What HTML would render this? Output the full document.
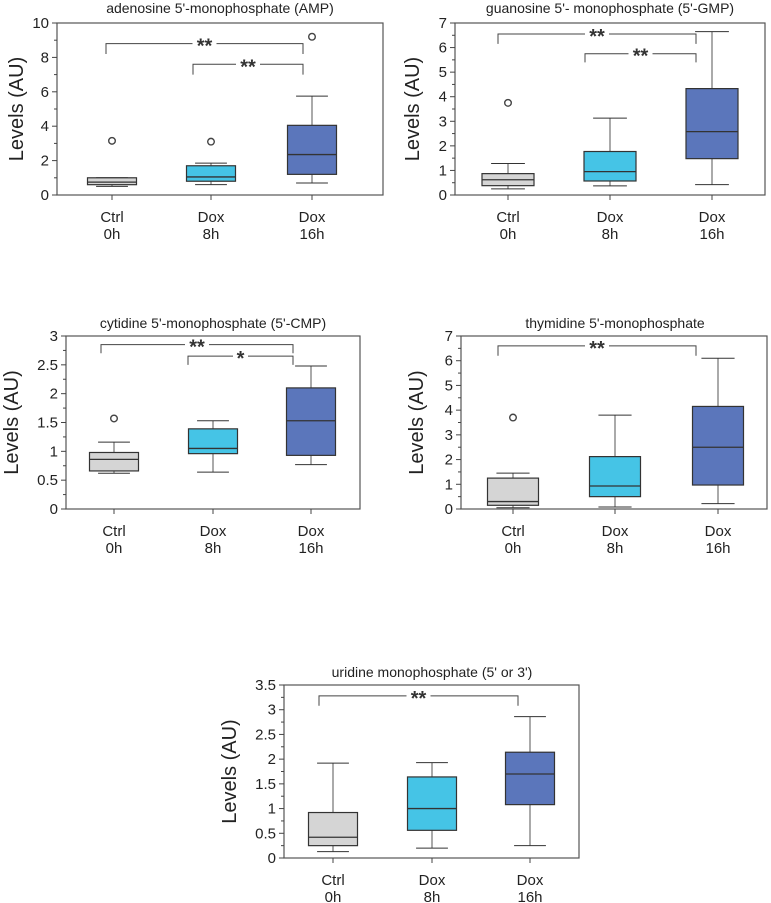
<!DOCTYPE html>
<html><head><meta charset="utf-8"><style>
body{margin:0;background:#fff;width:771px;height:903px;overflow:hidden}
svg{display:block;font-family:"Liberation Sans",sans-serif}
</style></head><body>
<svg id="c" width="771" height="903" viewBox="0 0 771 903"></svg>
<script>
const categories=[["Ctrl","0h"],["Dox","8h"],["Dox","16h"]];
const colors=["#d5d5d5","#45c4e6","#5b76bb"];
const titles=["adenosine 5'-monophosphate (AMP)","guanosine 5'- monophosphate (5'-GMP)","cytidine 5'-monophosphate (5'-CMP)","thymidine 5'-monophosphate","uridine monophosphate (5' or 3')"];
const yMax=[10,7,3,7,3.5];
const yTicks=[[0,2,4,6,8,10],[0,1,2,3,4,5,6,7],[0,0.5,1,1.5,2,2.5,3],[0,1,2,3,4,5,6,7],[0,0.5,1,1.5,2,2.5,3,3.5]];
// [whiskerLow, q1, median, q3, whiskerHigh] per category
const stats1=[[0.5,0.6,0.75,1.0,1.0],[0.6,0.8,1.05,1.7,1.85],[0.7,1.2,2.35,4.05,5.75]];
const stats2=[[0.25,0.38,0.62,0.87,1.28],[0.37,0.57,0.95,1.77,3.13],[0.42,1.48,2.58,4.33,6.65]];
const stats3=[[0.62,0.66,0.86,0.98,1.16],[0.64,0.96,1.05,1.39,1.53],[0.77,0.93,1.53,2.1,2.48]];
const stats4=[[0.05,0.15,0.3,1.25,1.45],[0.08,0.5,0.93,2.12,3.8],[0.22,0.97,2.5,4.15,6.1]];
const stats5=[[0.13,0.25,0.42,0.92,1.92],[0.2,0.56,1.0,1.64,1.93],[0.25,1.08,1.7,2.14,2.86]];
const outliers1=[[0,3.15],[1,3.1],[2,9.2]];
const outliers2=[[0,3.75]];
const outliers3=[[0,1.57]];
const outliers4=[[0,3.7]];
const outliers5=[];
// brackets: [fromCat, toCat, topValue, dropValue, label]
const brackets1=[[0,2,8.8,8.2,"**"],[1,2,7.6,7.0,"**"]];
const brackets2=[[0,2,6.55,6.15,"**"],[1,2,5.75,5.4,"**"]];
const brackets3=[[0,2,2.85,2.7,"**"],[1,2,2.65,2.5,"*"]];
const brackets4=[[0,2,6.6,6.2,"**"]];
const brackets5=[[0,2,3.28,3.08,"**"]];
const allStats=[stats1,stats2,stats3,stats4,stats5];
const allOut=[outliers1,outliers2,outliers3,outliers4,outliers5];
const allBr=[brackets1,brackets2,brackets3,brackets4,brackets5];
const layout=[
 {l:57,r:383,t:23,b:195,c:[112,211,312],bw:49,yt:17,tx:220,ty:13,br:[106,193,303]},
 {l:455,r:765,t:23,b:195,c:[508,610,712],bw:52,yt:413,tx:610,ty:13,br:[498,585,696]},
 {l:66,r:360,t:336,b:509,c:[114,213,311],bw:49,yt:12,tx:213,ty:328,br:[101,188,293]},
 {l:461,r:767,t:336,b:509,c:[513,615,718],bw:51,yt:417,tx:615,ty:328,br:[498,585,696]},
 {l:284,r:579,t:685,b:858,c:[333,432,530],bw:49,yt:230,tx:432,ty:677,br:[319,400,518]}
];
const svg=document.getElementById('c');
const NS="http://www.w3.org/2000/svg";
function mk(tag,attrs,parent,text){const e=document.createElementNS(NS,tag);for(const k in attrs)e.setAttribute(k,attrs[k]);if(text!==undefined)e.textContent=text;parent.appendChild(e);return e;}
layout.forEach((L,p)=>{
 const g=mk('g',{},svg);
 
 
 const y=v=>L.b-(v/yMax[p])*(L.b-L.t);
 const t=mk('text',{x:L.tx,y:L.ty,'text-anchor':'middle','font-size':'14',fill:'#222'},g,titles[p]);
 
 
 const f=mk('rect',{x:L.l,y:L.t,width:L.r-L.l,height:L.b-L.t,fill:'none',stroke:'#555','stroke-width':1.2},g);
 
 
 const ticks=yTicks[p];
 ticks.forEach((v,i)=>{
  mk('line',{x1:L.l-5,x2:L.l,y1:y(v),y2:y(v),stroke:'#444'},g);
  if(i<ticks.length-1){const m=(v+ticks[i+1])/2;mk('line',{x1:L.l-3,x2:L.l,y1:y(m),y2:y(m),stroke:'#444'},g);}
  const tl=mk('text',{x:L.l-8,y:y(v)+5,'text-anchor':'end','font-size':'15',fill:'#222'},g,String(v));
  
  
 });
 const yl=mk('text',{x:L.yt,y:(L.t+L.b)/2,'text-anchor':'middle','font-size':'20',fill:'#222',transform:`rotate(-90 ${L.yt} ${(L.t+L.b)/2})`,'dominant-baseline':'central'},g,'Levels (AU)');
 
 
 allStats[p].forEach((s,i)=>{
  const cx=L.c[i],hw=L.bw/2,cw=hw*0.65;
  mk('line',{x1:cx,x2:cx,y1:L.b,y2:L.b+5,stroke:'#444'},g);
  mk('line',{x1:cx,x2:cx,y1:y(s[0]),y2:y(s[4]),stroke:'#555','stroke-width':1},g);
  mk('line',{x1:cx-cw,x2:cx+cw,y1:y(s[0]),y2:y(s[0]),stroke:'#333'},g);
  mk('line',{x1:cx-cw,x2:cx+cw,y1:y(s[4]),y2:y(s[4]),stroke:'#333'},g);
  const b=mk('rect',{x:cx-hw,y:y(s[3]),width:L.bw,height:y(s[1])-y(s[3]),fill:colors[i],stroke:'#333','stroke-width':1.2},g);
  
  
  mk('line',{x1:cx-hw,x2:cx+hw,y1:y(s[2]),y2:y(s[2]),stroke:'#333','stroke-width':1.3},g);
  const c1=mk('text',{x:cx,y:L.b+27,'text-anchor':'middle','font-size':'15',fill:'#222'},g,categories[i][0]);
  
  
  const c2=mk('text',{x:cx,y:L.b+44,'text-anchor':'middle','font-size':'15',fill:'#222'},g,categories[i][1]);
  
  
 });
 allOut[p].forEach(o=>{
  const oc=mk('circle',{cx:L.c[o[0]],cy:y(o[1]),r:3.3,fill:'#fff',stroke:'#444','stroke-width':1.4},g);
  
  
 });
 allBr[p].forEach(br=>{
  const xa=br[0]===0?L.br[0]:L.br[1];
  const xb=L.br[2];
  const yt=y(br[2]),yd=y(br[3]),mx=(xa+xb)/2;
  const pth=mk('path',{d:`M${xa},${yd}V${yt}H${xb}V${yd}`,fill:'none',stroke:'#444','stroke-width':1},g);
  
  
  const w=br[4].length*9+6;
  mk('rect',{x:mx-w/2,y:yt-3,width:w,height:6,fill:'#fff'},g);
  const st=mk('text',{x:mx,y:yt+9,'text-anchor':'middle','font-size':'20','font-weight':'bold',fill:'#333'},g,br[4]);
  
  
 });
});
</script>
</body></html>
